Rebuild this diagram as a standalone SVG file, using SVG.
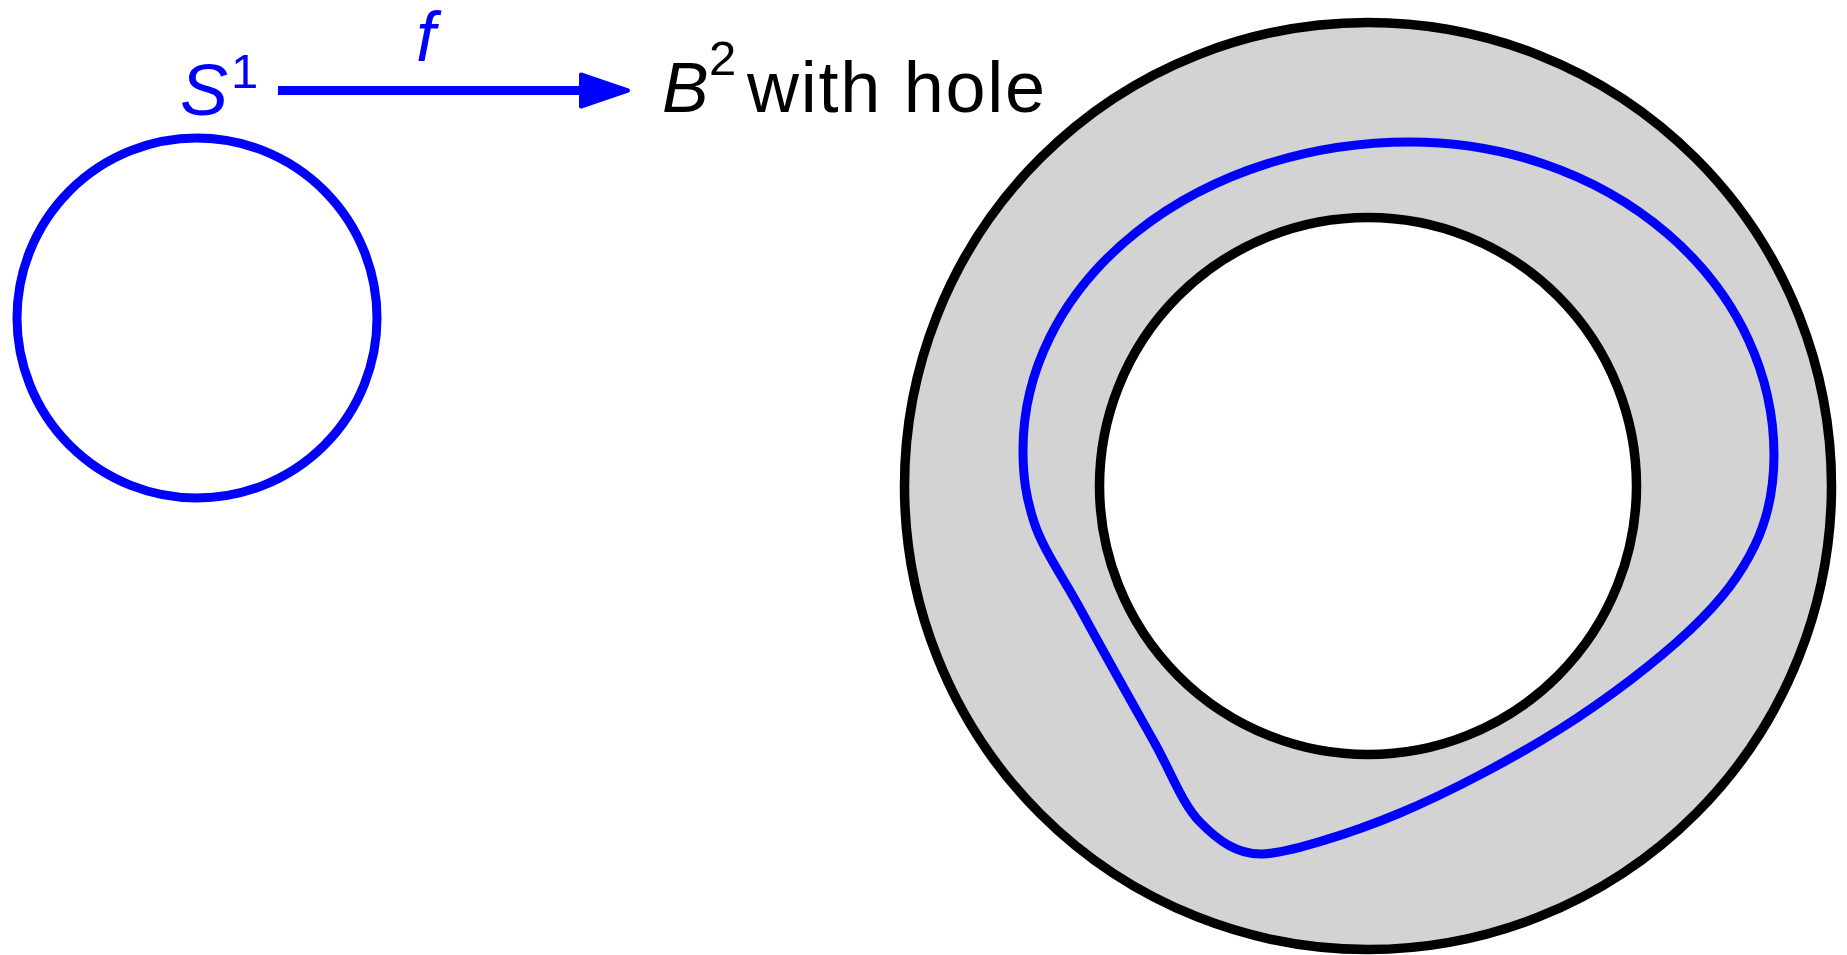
<svg xmlns="http://www.w3.org/2000/svg" width="1847" height="955" viewBox="0 0 1847 955">
  <style>
    .blue { fill: none; stroke: #0000ff; stroke-width: 9; }
    .ring { stroke: #000000; stroke-width: 9.5; }
    .lbl { font-family: "Liberation Sans", Arial, sans-serif; }
    .math { font-family: "Liberation Sans", Arial, sans-serif; font-style: italic; }
  </style>
  <defs>
    <marker id="ah" markerUnits="userSpaceOnUse" markerWidth="56" markerHeight="42" viewBox="0 0 56 42" refX="3" refY="21" orient="auto">
      <path d="M3,5 L50,21 L3,37 Z" fill="#0000ff" stroke="#0000ff" stroke-width="4" stroke-linejoin="round"/>
    </marker>
  </defs>
  <rect width="1847" height="955" fill="#ffffff"/>

  <g id="node-S1">
    <circle class="blue" cx="197" cy="318" r="180"/>
    <text class="math" x="180" y="115" font-size="72" fill="#0000ff">S</text>
    <text class="lbl" x="231" y="88" font-size="49" fill="#0000ff">1</text>
  </g>

  <g id="node-B2">
    <circle class="ring" cx="1368" cy="486" r="463.5" fill="#d3d3d3"/>
    <circle class="ring" cx="1368" cy="486" r="268.5" fill="#ffffff"/>
    <path id="image-curve" class="blue" d="M1023,450 A387,308 0 0 1 1410,142 A364,313 0 0 1 1774,455 C1774,485 1769,515.8 1755,545 C1741,574.2 1722.5,599.3 1690,630 C1657.5,660.7 1608.3,698.5 1560,729 C1511.7,759.5 1449.5,792.2 1400,813 C1350.5,833.8 1288,853 1263,854 C1238,855 1218.3,841 1200,822 C1181.7,803 1172.5,774.7 1153,740 C1133.5,705.3 1102.7,650.7 1083,614 C1063.3,577.3 1043,550 1034,522 C1026,497 1023,478 1023,450 Z"/>
    <text class="math" x="662" y="112" font-size="70" fill="#000000">B</text>
    <text class="lbl" x="709" y="75" font-size="49" fill="#000000">2</text>
    <text class="lbl" x="747" y="112" font-size="72" fill="#000000" textLength="298" lengthAdjust="spacing">with hole</text>
  </g>

  <g id="connectors">
    <line x1="278" y1="90.5" x2="581" y2="90.5" stroke="#0000ff" stroke-width="9" marker-end="url(#ah)"/>
    <text class="math" x="416" y="61" font-size="70" fill="#0000ff">f</text>
  </g>
</svg>
